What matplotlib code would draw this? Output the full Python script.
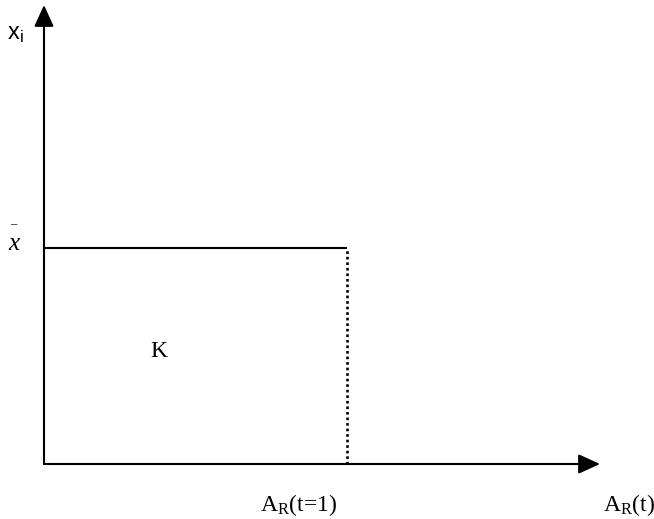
import matplotlib
matplotlib.use("Agg")
import matplotlib.pyplot as plt

plt.rcParams['font.family'] = ['Liberation Serif', 'DejaVu Serif']
plt.rcParams['mathtext.fontset'] = 'custom'
plt.rcParams['mathtext.rm'] = 'Liberation Serif'
plt.rcParams['mathtext.it'] = 'Liberation Serif:italic'

# Data (in units: A_R(t=1) = 1, x-bar = 1)
a_r_t1 = 1.0
x_bar = 1.0
x_axis_end = 1.835
y_axis_end = 2.125
region_label = "K"
axis_labels = ["x$_{\\mathsf{i}}$", "A$_{\\mathrm{R}}$(t)"]
tick_label_x = "A$_{\\mathrm{R}}$(t=1)"

fig = plt.figure(figsize=(6.54, 5.19), dpi=100)
ax = fig.add_axes([0, 0, 1, 1])
ax.set_xlim(-44 / 303, 610 / 303)
ax.set_ylim(-55 / 216, 464 / 216)
ax.axis('off')

arrow = dict(arrowstyle='-|>,head_length=1.1,head_width=0.5', mutation_scale=12,
             lw=1.5, color='black', shrinkA=0, shrinkB=0)
ax.annotate('', xy=(x_axis_end, 0), xytext=(0, 0), arrowprops=arrow)
ax.annotate('', xy=(0, y_axis_end), xytext=(0, 0), arrowprops=arrow)

ax.plot([0, a_r_t1], [x_bar, x_bar], color='black', lw=1.5, solid_capstyle='butt')
ax.plot([a_r_t1, a_r_t1], [0, x_bar], color='black', lw=1.9, linestyle=(0, (1, 1.1)))

fs = 17
plt.rcParams['mathtext.sf'] = 'Liberation Sans'
ax.text(-0.122, 1.963, axis_labels[0], fontsize=fs, ha='left', va='baseline',
        family=['Liberation Sans', 'DejaVu Sans'])
ax.text(-0.1007, 1.11, '\u2013', fontsize=9, ha='center', va='center')
ax.text(-0.119, 0.991, 'x', fontsize=fs + 1, style='italic', ha='left', va='baseline')
ax.text(0.378, 0.495, region_label, fontsize=fs, ha='center', va='baseline')
ax.text(0.713, -0.2176, tick_label_x, fontsize=fs, ha='left', va='baseline')
ax.text(1.845, -0.2176, axis_labels[1], fontsize=fs, ha='left', va='baseline')

fig.savefig('out.png', dpi=100)
